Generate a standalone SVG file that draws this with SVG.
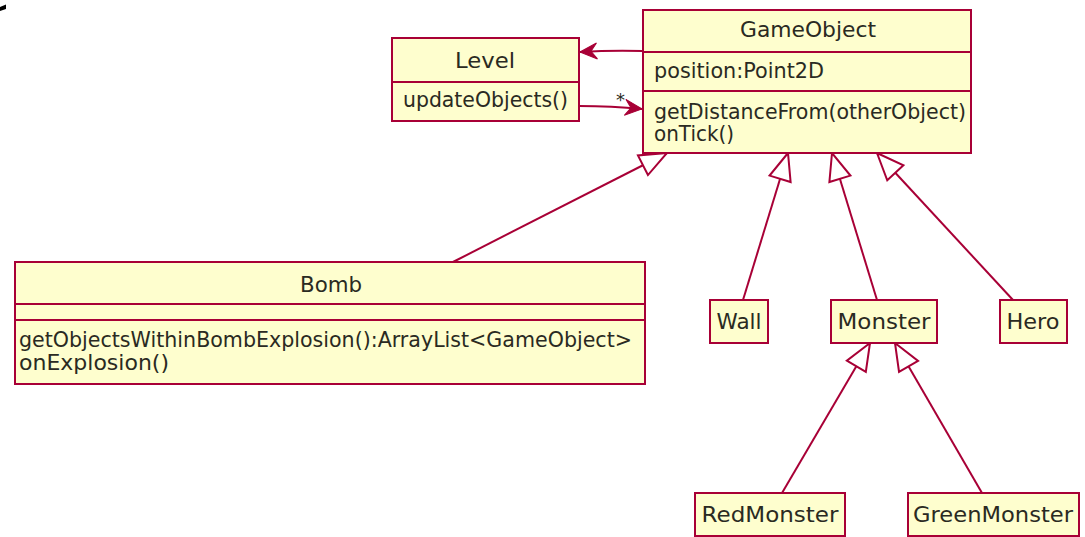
<svg xmlns="http://www.w3.org/2000/svg" width="1085" height="537" viewBox="0 0 1085 537">
<defs>
<style>
.box{fill:#FEFECE;stroke:#A80036;stroke-width:2}
.sep{stroke:#A80036;stroke-width:2}
.t{font-family:"DejaVu Sans","Liberation Sans",sans-serif;font-size:21px;fill:#2a2a22}
.s{font-size:22px}
.c{text-anchor:middle}
.edge{stroke:#A80036;stroke-width:2;fill:none}
</style>
<marker id="tri" markerUnits="userSpaceOnUse" viewBox="-30 -15 34 30" markerWidth="34" markerHeight="30" refX="0" refY="0" orient="auto">
<path d="M0,0 L-27,-11 L-27,11 Z" fill="#FFFFFF" stroke="#A80036" stroke-width="2"/>
</marker>
<marker id="arr" markerUnits="userSpaceOnUse" viewBox="-20 -10 22 20" markerWidth="22" markerHeight="20" refX="0" refY="0" orient="auto">
<path d="M0,0 L-17,-8 L-11,0 L-17,8 Z" fill="#A80036" stroke="#A80036" stroke-width="1"/>
</marker>
</defs>
<rect width="1085" height="537" fill="#FFFFFF"/>
<polygon points="0,7 6,4.5 6,9 0,11" fill="#000000"/>

<g id="connectors">
<path class="edge" d="M643,51 Q612,50 580,52" marker-end="url(#arr)"/>
<path class="edge" d="M579,106 Q612,106 642,109" marker-end="url(#arr)"/>
<text class="t" x="616" y="106" style="font-size:18px">*</text>
<line class="edge" x1="453" y1="262" x2="667" y2="153" marker-end="url(#tri)"/>
<line class="edge" x1="743" y1="300" x2="788" y2="153" marker-end="url(#tri)"/>
<line class="edge" x1="877" y1="300" x2="832" y2="153" marker-end="url(#tri)"/>
<line class="edge" x1="1013" y1="300" x2="877" y2="153" marker-end="url(#tri)"/>
<line class="edge" x1="782" y1="493" x2="870" y2="343" marker-end="url(#tri)"/>
<line class="edge" x1="982" y1="493" x2="895" y2="343" marker-end="url(#tri)"/>
</g>

<g id="Level">
<rect class="box" x="392" y="38" width="187" height="83"/>
<line class="sep" x1="392" y1="82" x2="579" y2="82"/>
<text class="t c" x="485" y="68" textLength="60" lengthAdjust="spacingAndGlyphs">Level</text>
<text class="t" x="403" y="107" textLength="165" lengthAdjust="spacingAndGlyphs">updateObjects()</text>
</g>

<g id="GameObject">
<rect class="box" x="643" y="10" width="328" height="143"/>
<line class="sep" x1="643" y1="52" x2="971" y2="52"/>
<line class="sep" x1="643" y1="91" x2="971" y2="91"/>
<text class="t c" x="808" y="37" textLength="136" lengthAdjust="spacingAndGlyphs">GameObject</text>
<text class="t" x="654" y="78" textLength="170" lengthAdjust="spacingAndGlyphs">position:Point2D</text>
<text class="t" x="654" y="119" textLength="312" lengthAdjust="spacingAndGlyphs">getDistanceFrom(otherObject)</text>
<text class="t" x="654" y="141" textLength="80" lengthAdjust="spacingAndGlyphs">onTick()</text>
</g>

<g id="Bomb">
<rect class="box" x="15" y="262" width="630" height="122"/>
<line class="sep" x1="15" y1="304" x2="645" y2="304"/>
<line class="sep" x1="15" y1="320" x2="645" y2="320"/>
<text class="t c" x="331" y="292" textLength="62" lengthAdjust="spacingAndGlyphs">Bomb</text>
<text class="t" x="19" y="347" textLength="613" lengthAdjust="spacingAndGlyphs">getObjectsWithinBombExplosion():ArrayList&lt;GameObject&gt;</text>
<text class="t" x="19" y="370" textLength="150" lengthAdjust="spacingAndGlyphs">onExplosion()</text>
</g>

<g id="Wall">
<rect class="box" x="710" y="300" width="58" height="43"/>
<text class="t s c" x="739" y="329" textLength="45" lengthAdjust="spacingAndGlyphs">Wall</text>
</g>

<g id="Monster">
<rect class="box" x="831" y="300" width="106" height="43"/>
<text class="t s c" x="884" y="329" textLength="93" lengthAdjust="spacingAndGlyphs">Monster</text>
</g>

<g id="Hero">
<rect class="box" x="1000" y="300" width="67" height="43"/>
<text class="t s c" x="1033" y="329" textLength="53" lengthAdjust="spacingAndGlyphs">Hero</text>
</g>

<g id="RedMonster">
<rect class="box" x="695" y="493" width="150" height="43"/>
<text class="t s c" x="770" y="522" textLength="137" lengthAdjust="spacingAndGlyphs">RedMonster</text>
</g>

<g id="GreenMonster">
<rect class="box" x="908" y="493" width="171" height="43"/>
<text class="t s c" x="993" y="522" textLength="160" lengthAdjust="spacingAndGlyphs">GreenMonster</text>
</g>
</svg>
